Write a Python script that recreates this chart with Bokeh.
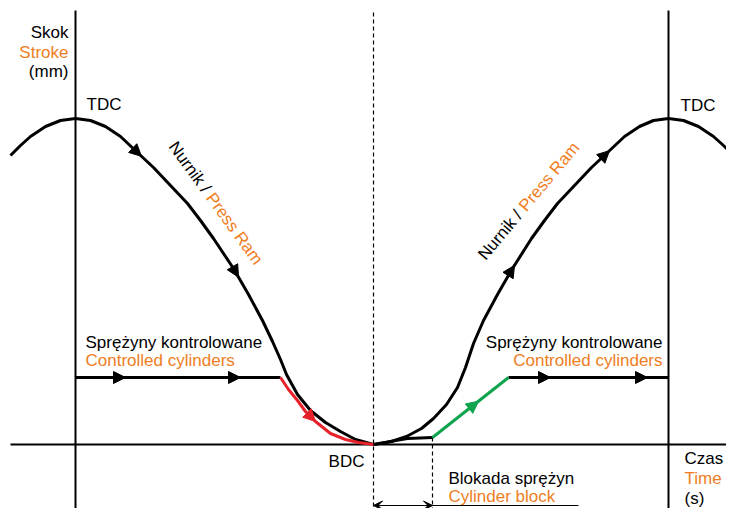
import numpy as np
from bokeh.plotting import figure
from bokeh.models import Range1d, Arrow, NormalHead, VeeHead
from bokeh.core.properties import value
from bokeh.embed import file_html
from bokeh.resources import INLINE

# ---- data (time in arbitrary units, stroke above BDC in arbitrary units) ----
TDC_TIMES = [75, 668]
BDC_TIME = 373
BLOCK_END_TIME = 432
TOP = 434
BOTTOM = -80

ram_left_t = [10, 20, 30, 45, 60, 75, 90, 105, 120, 138, 153, 170, 187, 200, 213, 233, 248, 262, 272, 280, 286, 297, 310, 325, 340, 355, 373]
ram_left_s = [289, 299, 308, 318, 324, 326, 324, 318, 308, 291, 277, 259, 241, 224, 206, 176, 150, 124, 103, 85, 70, 50, 34, 22, 13, 5, 0]

ram_right_t = [373, 391, 406, 421, 433, 446, 457, 465, 473, 483, 497, 512, 531, 544, 557, 574, 591, 606, 624, 639, 653, 668, 683, 698, 713, 723, 733]
ram_right_s = [0, 3, 8, 16, 26, 40, 57, 77, 101, 124, 150, 176, 206, 224, 241, 259, 277, 291, 308, 318, 324, 326, 324, 318, 308, 299, 289]

spring_level = 67
spring_left_t = [75, 280]
spring_right_t = [508, 668]

red_t = [280, 288, 297, 305, 315, 330, 345, 358, 373]
red_s = [67, 55, 44, 33, 23, 11, 5, 2, 0]

block_t = [373, 385, 395, 407, 432]
block_s = [0, 2, 4, 6, 7]

green_t = [432, 508]
green_s = [7, 67]

ORANGE = "#ef7d22"
RED = "#e8222a"
GREEN = "#0ea44e"
FONT = "Liberation Sans"
FS = "17px"

p = figure(width=726, height=508, x_range=Range1d(0, 726), y_range=Range1d(-64, 444),
           output_backend="svg", toolbar_location=None, min_border=0)
p.axis.visible = False
p.grid.visible = False
p.outline_line_color = None
p.background_fill_color = "white"

# axes of the diagram
for t in TDC_TIMES:
    p.line([t, t], [TOP, BOTTOM], line_color="black", line_width=2)
p.line([10, 760], [0, 0], line_color="black", line_width=2)
p.line([BDC_TIME, BDC_TIME], [432, BOTTOM], line_color="black", line_width=1.2, line_dash="4 3")
p.line([BLOCK_END_TIME, BLOCK_END_TIME], [block_s[-1], BOTTOM], line_color="black", line_width=1.2, line_dash="4 3")

# curves
p.line(ram_left_t, ram_left_s, line_color="black", line_width=3, line_join="round")
p.line(ram_right_t, ram_right_s, line_color="black", line_width=3, line_join="round")
p.line(spring_left_t, [spring_level] * 2, line_color="black", line_width=3)
p.line(spring_right_t, [spring_level] * 2, line_color="black", line_width=3)
p.line(red_t, red_s, line_color=RED, line_width=3, line_join="round")
p.line(block_t, block_s, line_color="black", line_width=3, line_join="round")
p.line(green_t, green_s, line_color=GREEN, line_width=3)


def head(ts, ss, t_tip, color, size=12):
    s_tip = float(np.interp(t_tip, ts, ss))
    t0 = t_tip - 2
    s0 = float(np.interp(t0, ts, ss))
    p.add_layout(Arrow(end=NormalHead(size=size, fill_color=color, line_color=color, line_width=1),
                       x_start=t0, y_start=s0, x_end=t_tip, y_end=s_tip, line_alpha=0))


head(ram_left_t, ram_left_s, 141, "black")
head(ram_left_t, ram_left_s, 238, "black")
head(ram_right_t, ram_right_s, 514, "black")
head(ram_right_t, ram_right_s, 609, "black")
head(spring_left_t, [spring_level] * 2, 125, "black")
head(spring_left_t, [spring_level] * 2, 240, "black")
head(spring_right_t, [spring_level] * 2, 550, "black")
head(spring_right_t, [spring_level] * 2, 647, "black")
head(red_t, red_s, 315, RED)
head(green_t, green_s, 478, GREEN)

# dimension arrow (cylinder block)
dim_y = -61
p.line([BDC_TIME, 578], [dim_y, dim_y], line_color="black", line_width=1)
p.add_layout(Arrow(end=VeeHead(size=9, fill_color="black", line_color="black", line_width=1),
                   x_start=BDC_TIME + 10, y_start=dim_y, x_end=BDC_TIME, y_end=dim_y, line_alpha=0))
p.add_layout(Arrow(end=VeeHead(size=9, fill_color="black", line_color="black", line_width=1),
                   x_start=BLOCK_END_TIME - 10, y_start=dim_y, x_end=BLOCK_END_TIME, y_end=dim_y, line_alpha=0))


def txt(x, y, s, color="black", align="left", angle=0.0):
    p.text(x=[x], y=[y], text=[s], text_color=color, text_font=value(FONT), text_font_size=FS,
           text_align=align, text_baseline="middle", angle=angle)


txt(68, 412, "Skok", align="right")
txt(68, 392, "Stroke", ORANGE, align="right")
txt(68, 373, "(mm)", align="right")
txt(86, 340, "TDC")
txt(680, 339, "TDC")
txt(85, 102, "Sprężyny kontrolowane")
txt(85, 84, "Controlled cylinders", ORANGE)
txt(662, 102, "Sprężyny kontrolowane", align="right")
txt(662, 84, "Controlled cylinders", ORANGE, align="right")
txt(364, -17, "BDC", align="right")
txt(448, -34, "Blokada sprężyn")
txt(448, -52, "Cylinder block", ORANGE)
txt(684, -14, "Czas")
txt(684, -34, "Time", ORANGE)
txt(684, -54, "(s)")

# rotated labels
first_w = 63.3
a1 = np.deg2rad(-54.0)
x1, y1 = 172, 301
txt(x1, y1, "Nurnik / ", angle=a1)
txt(x1 + first_w * np.cos(a1), y1 + first_w * np.sin(a1), "Press Ram", ORANGE, angle=a1)
a2 = np.deg2rad(50.0)
x2, y2 = 481, 187
txt(x2, y2, "Nurnik / ", angle=a2)
txt(x2 + first_w * np.cos(a2), y2 + first_w * np.sin(a2), "Press Ram", ORANGE, angle=a2)

open("out.html", "w").write(file_html(p, INLINE))
